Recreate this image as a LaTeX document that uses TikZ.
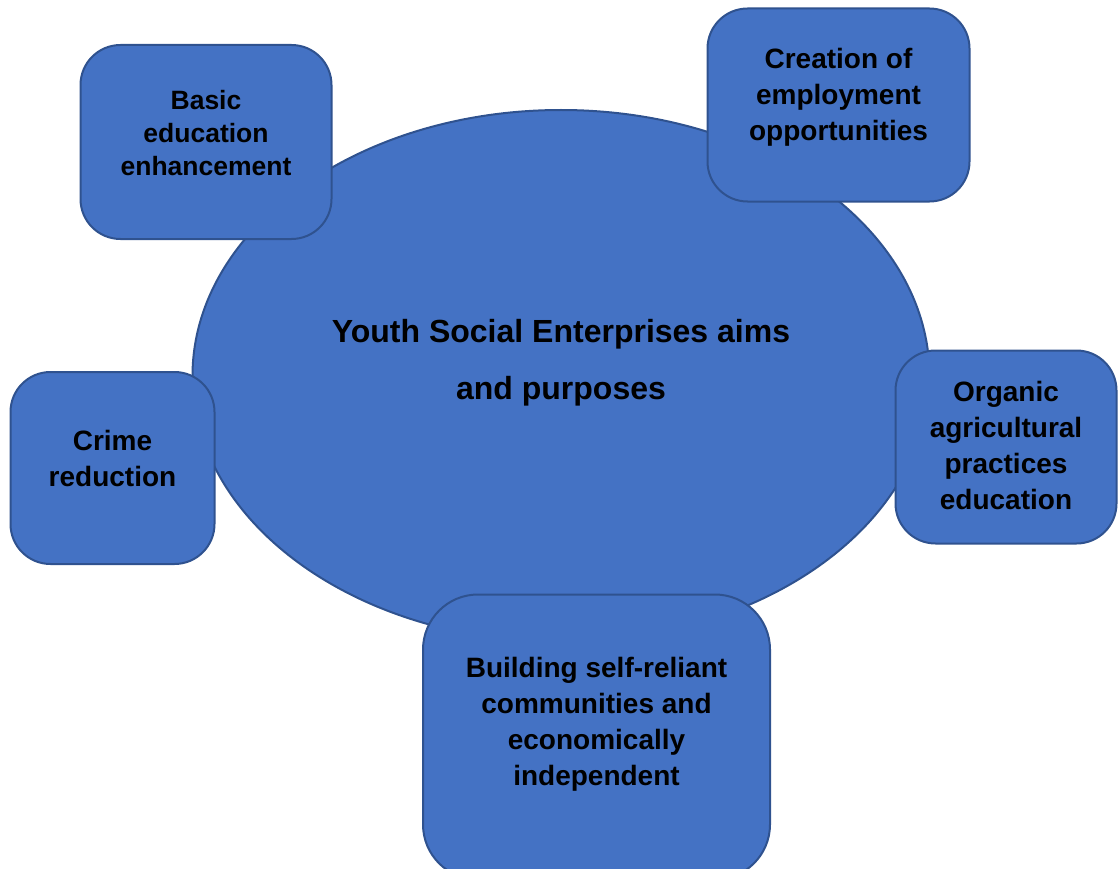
\documentclass[tikz,border=0pt]{standalone}
\usepackage{fontspec}
\setmainfont{Liberation Sans}
\usetikzlibrary{shapes.geometric}
\definecolor{aimfill}{HTML}{4472C4}
\definecolor{aimline}{HTML}{2F528F}

\begin{document}
\begin{tikzpicture}
  [x=1pt, y=-1pt,
   aim/.style={draw=aimline, fill=aimfill, line width=2pt, rounded corners=40pt,
     rectangle, inner sep=0pt},
   aimtext/.style={align=center, font=\bfseries\fontsize{28}{36}\selectfont},
   hub/.style={draw=aimline, fill=aimfill, line width=2pt, ellipse, inner sep=0pt}]
  \useasboundingbox (0, 0) rectangle (1118, 869);
  \node[hub, minimum width=737pt, minimum height=532pt] (hub) at (561, 376) {};
  \node[aimtext, font=\bfseries\fontsize{32}{57}\selectfont] (hubtext) at (561, 363)
    {Youth Social Enterprises aims\\and purposes};
  \node[aim, minimum width=251pt, minimum height=194pt] (basic) at (206, 142) {};
  \node[aimtext, font=\bfseries\fontsize{26.5}{33}\selectfont] (basictext) at (206, 133)
    {Basic\\education\\enhancement};
  \node[aim, minimum width=262pt, minimum height=193pt] (creation) at (838.5, 105) {};
  \node[aimtext] (creationtext) at (838.5, 97) {Creation of\\employment\\opportunities};
  \node[aim, minimum width=204pt, minimum height=192pt] (crime) at (112.5, 468) {};
  \node[aimtext] (crimetext) at (112.5, 458) {Crime\\reduction};
  \node[aim, minimum width=221pt, minimum height=193pt] (organic) at (1006, 447) {};
  \node[aimtext] (organictext) at (1006, 445) {Organic\\agricultural\\practices\\education};
  \node[aim, rounded corners=55pt, minimum width=347pt, minimum height=285pt] (building) at (596.5, 737) {};
  \node[aimtext] (buildingtext) at (596.5, 724)
    {Building self-reliant\\communities and\\economically\\independent};
\end{tikzpicture}
\end{document}
